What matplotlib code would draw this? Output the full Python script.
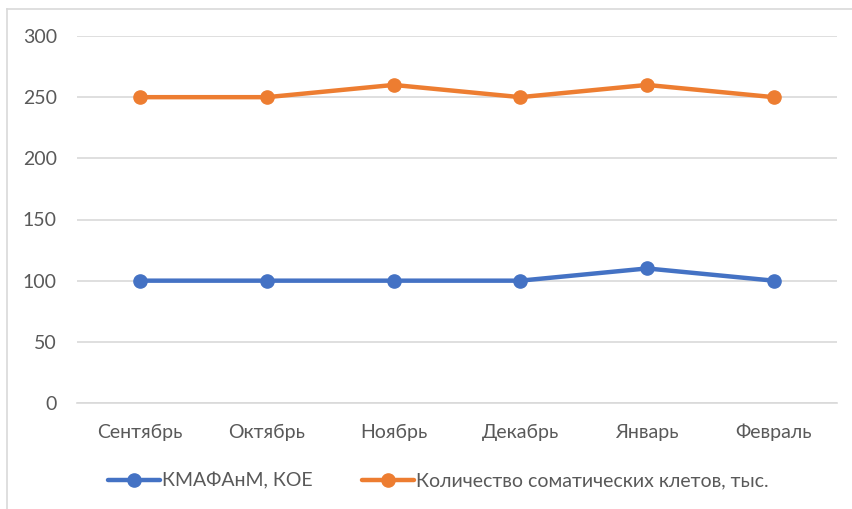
import matplotlib
matplotlib.use("Agg")
import matplotlib.pyplot as plt
from matplotlib.lines import Line2D

categories = ["Сентябрь", "Октябрь", "Ноябрь", "Декабрь", "Январь", "Февраль"]
kmafanm = [100, 100, 100, 100, 110, 100]
somatic = [250, 250, 260, 250, 260, 250]
series_names = ["КМАФАнМ, КОЕ", "Количество соматических клетов, тыс."]
yticks = [0, 50, 100, 150, 200, 250, 300]

plt.rcParams['font.family'] = ['Lato', 'DejaVu Sans']
txt = '#595959'
fs = 14

W, H = 853, 509
fig = plt.figure(figsize=(W/100, H/100), dpi=100)
ax = fig.add_axes([77/W, 1-403/H, 760/W, 367/H])

x = list(range(len(categories)))
ax.plot(x, kmafanm, color='#4472C4', lw=3.2, marker='o', ms=9.5, label=series_names[0], solid_capstyle='round')
ax.plot(x, somatic, color='#ED7D31', lw=3.2, marker='o', ms=9.5, label=series_names[1], solid_capstyle='round')

ax.set_xlim(-0.5, len(categories)-0.5)
ax.set_ylim(0, 300)
ax.set_yticks(yticks)
ax.set_xticks(x)
ax.set_xticklabels(categories)
ax.grid(axis='y', color='#D9D9D9', lw=1.2)
ax.set_axisbelow(True)
for s in ['top', 'right', 'left']:
    ax.spines[s].set_visible(False)
ax.spines['bottom'].set_color('#D9D9D9')
ax.spines['bottom'].set_linewidth(1.2)
ax.tick_params(axis='both', length=0, labelsize=fs, labelcolor=txt)
ax.tick_params(axis='y', pad=14.5)
ax.tick_params(axis='x', pad=15)

fig.legend(loc='center', bbox_to_anchor=(438.5/W, 1-481/H), ncol=2, frameon=False,
           fontsize=fs, labelcolor=txt, handlelength=2.67, handletextpad=0.1,
           columnspacing=2.57, borderpad=0, borderaxespad=0)

# chart border
fig.add_artist(Line2D([7.5/W, 7.5/W], [0, 1-9/H], transform=fig.transFigure, color='#D9D9D9', lw=1.2))
fig.add_artist(Line2D([7.5/W, 1], [1-9/H, 1-9/H], transform=fig.transFigure, color='#D9D9D9', lw=1.2))

fig.savefig('out.png', dpi=100)
